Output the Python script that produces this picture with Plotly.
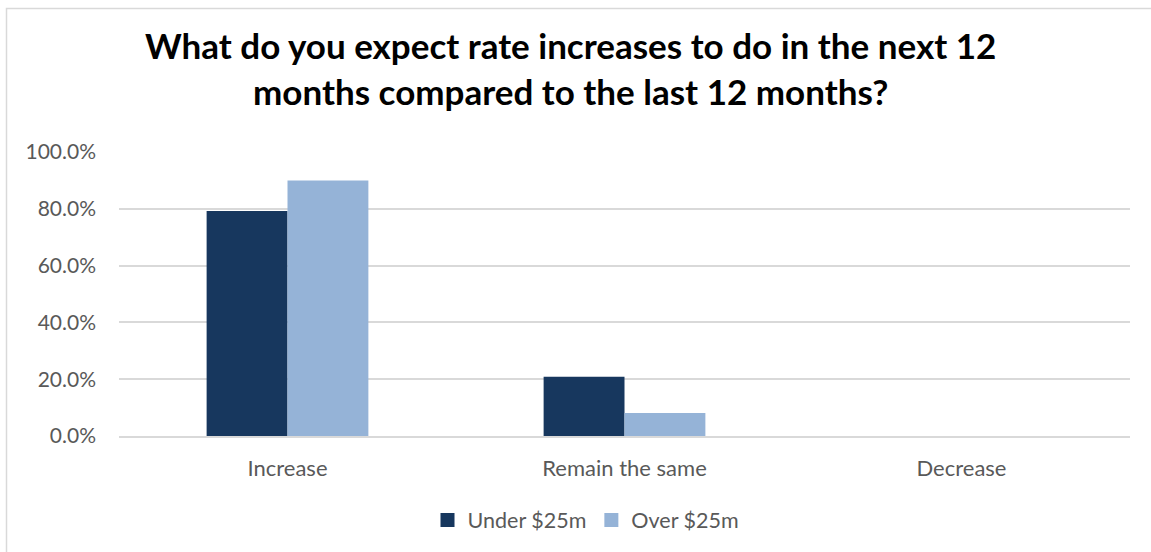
import plotly.graph_objects as go

# Survey responses by company size
categories = ["Increase", "Remain the same", "Decrease"]
under_25m = [0.792, 0.209, 0.0]
over_25m = [0.900, 0.081, 0.0]
series_names = ["Under $25m", "Over $25m"]
y_ticks = [0, 0.2, 0.4, 0.6, 0.8, 1.0]
y_tick_labels = ["0.0%", "20.0%", "40.0%", "60.0%", "80.0%", "100.0%"]
title_text = ("What do you expect rate increases to do in the next 12<br>"
              "months compared to the last 12 months?")

W, H = 1151, 552
L, R, T, B = 119, 21, 152, 116
pw, ph = W - L - R, H - T - B

DARK = "#17375E"
LIGHT = "#95B3D7"
GRID = "#D9D9D9"
TXT = "#595959"
FONT = "Lato, 'Open Sans', sans-serif"


def px_x(v):
    return (v - L) / pw


def px_y(v):
    return 1 - (v - T) / ph


fig = go.Figure()
for name, vals, col in zip(series_names, [under_25m, over_25m], [DARK, LIGHT]):
    fig.add_trace(go.Bar(x=categories, y=vals, name=name, showlegend=False,
                         marker=dict(color=col, line=dict(width=0))))
    # legend entry with a square swatch
    fig.add_trace(go.Scatter(x=[None], y=[None], mode="markers", name=name,
                             marker=dict(symbol="square", size=14, color=col)))

# outer chart border
fig.add_shape(type="rect", xref="paper", yref="paper",
              x0=px_x(6.5), x1=px_x(1160), y0=px_y(8.5), y1=px_y(560),
              line=dict(color=GRID, width=1.5), fillcolor="rgba(0,0,0,0)", layer="below")

fig.add_annotation(text=title_text, xref="paper", yref="paper",
                   x=px_x(570), y=px_y(22), xanchor="center", yanchor="top",
                   showarrow=False, align="center",
                   font=dict(family=FONT, size=35, color="#000000", weight="bold"))

fig.update_layout(
    width=W, height=H,
    margin=dict(l=L, r=R, t=T, b=B, pad=0),
    paper_bgcolor="white", plot_bgcolor="white",
    barmode="group", bargap=0.52, bargroupgap=0,
    font=dict(family=FONT, color=TXT),
    xaxis=dict(showgrid=False, showline=True, linecolor=GRID, linewidth=1.5,
               ticks="", tickfont=dict(size=22, color=TXT), ticklabelstandoff=12),
    yaxis=dict(range=[0, 1.0], tickvals=y_ticks, ticktext=y_tick_labels,
               showgrid=True, gridcolor=GRID, gridwidth=1.5, zeroline=False,
               showline=False, ticks="", tickfont=dict(size=21, color=TXT),
               ticklabelstandoff=22),
    legend=dict(orientation="h", x=px_x(586), xanchor="center", y=px_y(520), yanchor="middle",
                font=dict(size=21.5, color=TXT), itemwidth=30, traceorder="normal",
                bgcolor="rgba(0,0,0,0)"),
    showlegend=True,
)

fig.write_html("out.html")
